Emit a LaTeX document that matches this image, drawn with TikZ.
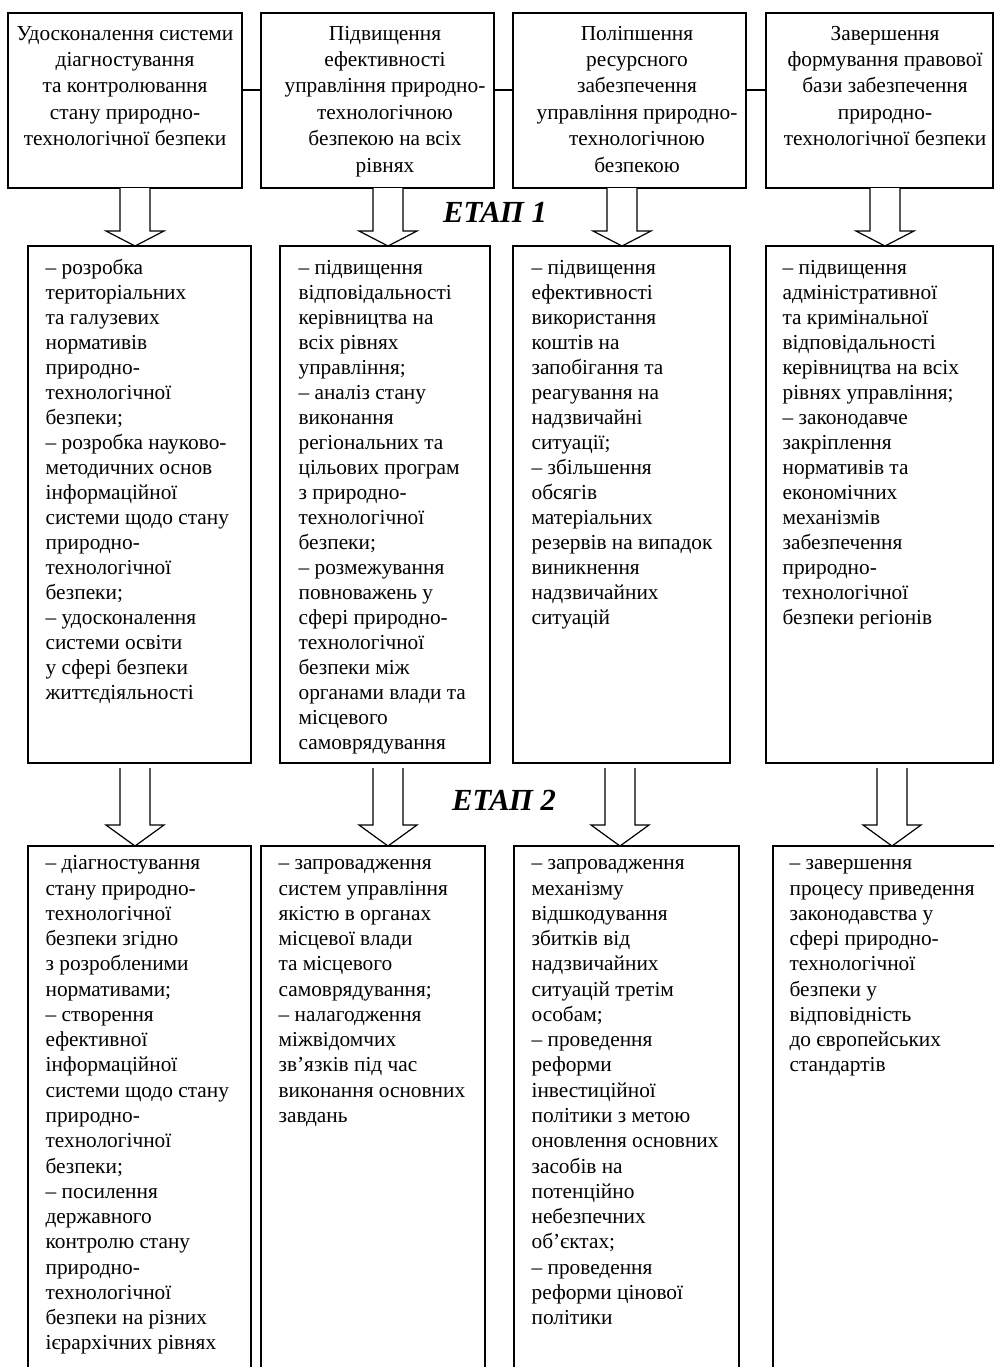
\documentclass[tikz,border=0pt]{standalone}
\usepackage{fontspec}
\setmainfont{Liberation Serif}
\usetikzlibrary{calc}
\newcommand\blkarr[5]{%
  \draw[blk] ($(#1|-#2.south)+(-15,#5)$) -- ($(#1|-#3.north)+(-15,-#4)$) -- ($(#1|-#3.north)+(-29,-#4)$) -- (#1|-#3.north) -- ($(#1|-#3.north)+(29,-#4)$) -- ($(#1|-#3.north)+(15,-#4)$) -- ($(#1|-#2.south)+(15,#5)$);}
\begin{document}
\begin{tikzpicture}[x=0.75pt,y=-0.75pt,line width=0.9pt,
  box/.style 2 args={draw, rectangle, inner sep=0pt, outer sep=0pt, anchor=north west, minimum width=#1*0.75pt, minimum height=#2*0.75pt},
  obox/.style 2 args={rectangle, inner sep=0pt, outer sep=0pt, anchor=north west, minimum width=#1*0.75pt, minimum height=#2*0.75pt},
  ttxt/.style={align=center, inner sep=0pt, anchor=north, font=\fontsize{16}{19.8}\selectfont},
  btxt/.style={align=left, inner sep=0pt, anchor=north west, font=\fontsize{16}{18.75}\selectfont},
  ltxt/.style={btxt, font=\fontsize{16}{18.95}\selectfont},
  etap/.style={font=\fontsize{23}{26}\selectfont\bfseries\itshape, inner sep=0pt},
  blk/.style={draw, line join=miter, fill=white}]
\useasboundingbox (0,0) rectangle (994,1367);

% top row
\node[box={234}{175}] (T1) at (8,13) {};
\node[box={233}{175}] (T2) at (261,13) {};
\node[box={233}{175}] (T3) at (513,13) {};
\node[box={227}{175}] (T4) at (766,13) {};
\node[ttxt] (t1) at (125,21) {\strut Удосконалення системи\\діагностування\\та контролювання\\стану природно-\\технологічної безпеки};
\node[ttxt] (t2) at (385,21) {\strut Підвищення\\ефективності\\управління природно-\\технологічною\\безпекою на всіх\\рівнях};
\node[ttxt] (t3) at (637,21) {\strut Поліпшення\\ресурсного\\забезпечення\\управління природно-\\технологічною\\безпекою};
\node[ttxt] (t4) at (885,21) {\strut Завершення\\формування правової\\бази забезпечення\\природно-\\технологічної безпеки};

\coordinate (hl) at (0,90);
\draw (T1.east |- hl) -- (T2.west |- hl);
\draw (T2.east |- hl) -- (T3.west |- hl);
\draw (T3.east |- hl) -- (T4.west |- hl);

% middle row
\node[box={223}{517}] (M1) at (28,246) {};
\node[box={210}{517}] (M2) at (280,246) {};
\node[box={217}{517}] (M3) at (513,246) {};
\node[box={227}{517}] (M4) at (766,246) {};
\node[btxt] (m1) at (45,256) {\strut – розробка\\територіальних\\та галузевих\\нормативів\\природно-\\технологічної\\безпеки;\\– розробка науково-\\методичних основ\\інформаційної\\системи щодо стану\\природно-\\технологічної\\безпеки;\\– удосконалення\\системи освіти\\у сфері безпеки\\життєдіяльності};
\node[btxt] (m2) at (298,256) {\strut – підвищення\\відповідальності\\керівництва на\\всіх рівнях\\управління;\\– аналіз стану\\виконання\\регіональних та\\цільових програм\\з природно-\\технологічної\\безпеки;\\– розмежування\\повноважень у\\сфері природно-\\технологічної\\безпеки між\\органами влади та\\місцевого\\самоврядування};
\node[btxt] (m3) at (531,256) {\strut – підвищення\\ефективності\\використання\\коштів на\\запобігання та\\реагування на\\надзвичайні\\ситуації;\\– збільшення\\обсягів\\матеріальних\\резервів на випадок\\виникнення\\надзвичайних\\ситуацій};
\node[btxt] (m4) at (782,256) {\strut – підвищення\\адміністративної\\та кримінальної\\відповідальності\\керівництва на всіх\\рівнях управління;\\– законодавче\\закріплення\\нормативів та\\економічних\\механізмів\\забезпечення\\природно-\\технологічної\\безпеки регіонів};

% bottom row (open at the bottom)
\node[obox={223}{524}] (B1) at (28,846) {};
\node[obox={224}{524}] (B2) at (261,846) {};
\node[obox={225}{524}] (B3) at (514,846) {};
\node[obox={240}{524}] (B4) at (773,846) {};
\foreach \b in {B1,B2,B3,B4}
  \draw (\b.south west) -- (\b.north west) -- (\b.north east) -- (\b.south east);
\node[ltxt] (b1) at (45,851.5) {\strut – діагностування\\стану природно-\\технологічної\\безпеки згідно\\з розробленими\\нормативами;\\– створення\\ефективної\\інформаційної\\системи щодо стану\\природно-\\технологічної\\безпеки;\\– посилення\\державного\\контролю стану\\природно-\\технологічної\\безпеки на різних\\ієрархічних рівнях};
\node[ltxt] (b2) at (278,851.5) {\strut – запровадження\\систем управління\\якістю в органах\\місцевої влади\\та місцевого\\самоврядування;\\– налагодження\\міжвідомчих\\зв’язків під час\\виконання основних\\завдань};
\node[ltxt] (b3) at (531,851.5) {\strut – запровадження\\механізму\\відшкодування\\збитків від\\надзвичайних\\ситуацій третім\\особам;\\– проведення\\реформи\\інвестиційної\\політики з метою\\оновлення основних\\засобів на\\потенційно\\небезпечних\\об’єктах;\\– проведення\\реформи цінової\\політики};
\node[ltxt] (b4) at (789,851.5) {\strut – завершення\\процесу приведення\\законодавства у\\сфері природно-\\технологічної\\безпеки у\\відповідність\\до європейських\\стандартів};

% block arrows
\coordinate (a1) at (135,0);
\coordinate (a2) at (388,0);
\coordinate (a3) at (622,0);
\coordinate (a4) at (885,0);
\coordinate (c1) at (135,0);
\coordinate (c2) at (388,0);
\coordinate (c3) at (620,0);
\coordinate (c4) at (892,0);
\blkarr{a1}{T1}{M1}{15}{0}
\blkarr{a2}{T2}{M2}{15}{0}
\blkarr{a3}{T3}{M3}{15}{0}
\blkarr{a4}{T4}{M4}{15}{0}
\blkarr{c1}{M1}{B1}{21}{5}
\blkarr{c2}{M2}{B2}{21}{5}
\blkarr{c3}{M3}{B3}{21}{5}
\blkarr{c4}{M4}{B4}{21}{5}

\node[etap] (e1) at (495,212) {ЕТАП 1};
\node[etap] (e2) at (504,800) {ЕТАП 2};
\end{tikzpicture}
\end{document}
